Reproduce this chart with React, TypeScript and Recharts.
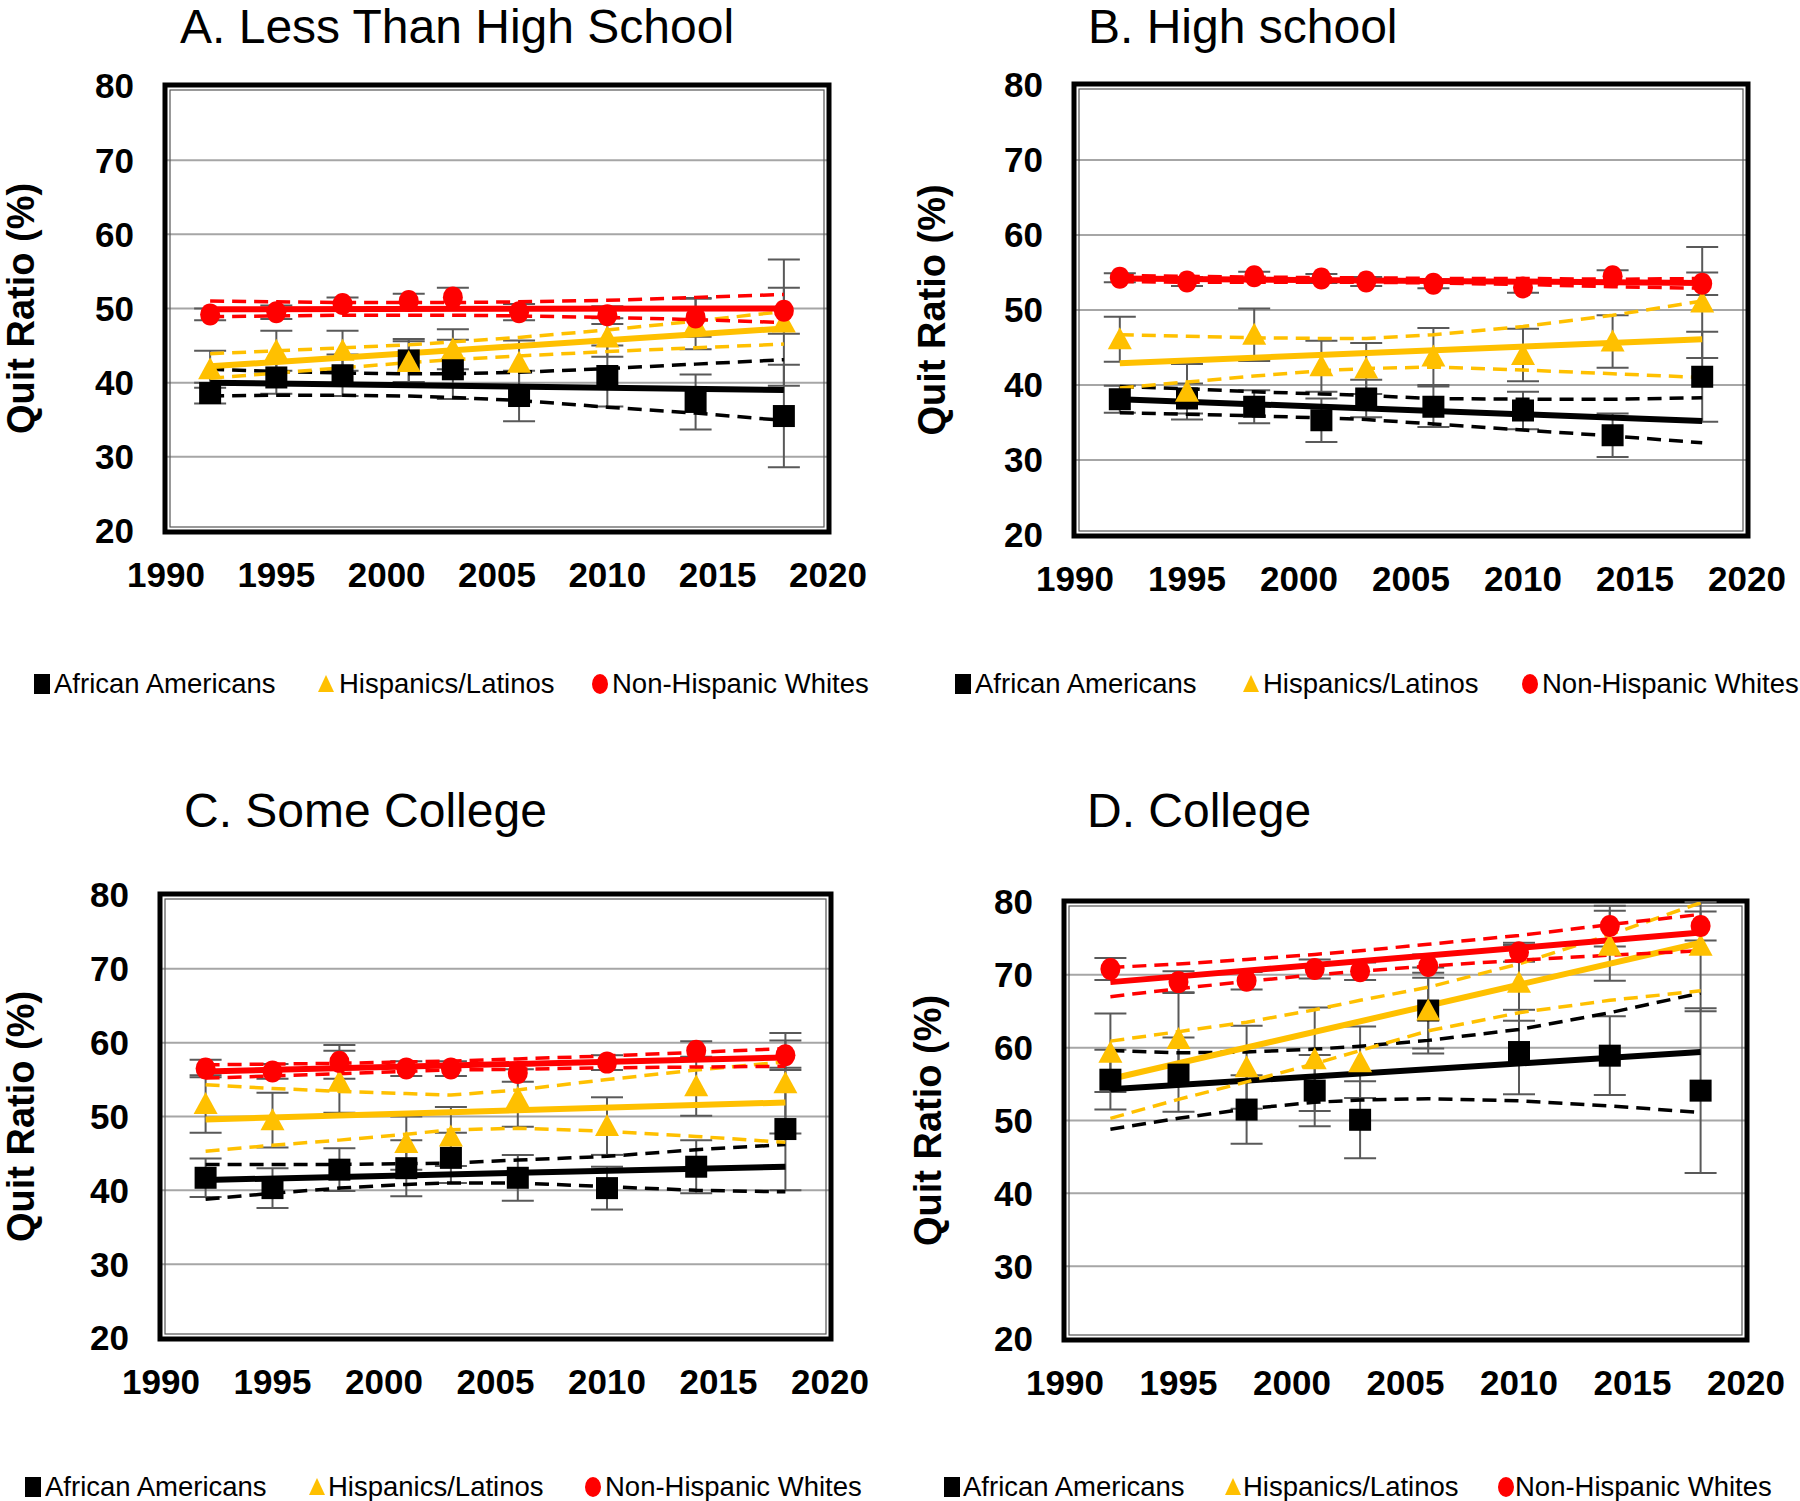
import React from "react";
import {
  CartesianGrid,
  ComposedChart,
  ErrorBar,
  Line,
  ReferenceArea,
  XAxis,
  YAxis,
} from "recharts";

const YEARS = [1992, 1995, 1998, 2001, 2003, 2006, 2010, 2014, 2018];
const FIT_YEARS = [1992, 2018];
const X_TICKS = [1990, 1995, 2000, 2005, 2010, 2015, 2020];
const Y_TICKS = [20, 30, 40, 50, 60, 70, 80];
const GROUP_NAMES = ["African Americans", "Hispanics/Latinos", "Non-Hispanic Whites"];

// A. Less than high school
const A_AA = [38.6, 40.7, 41.0, 43.0, 41.8, 38.2, 40.9, 37.4, 35.5];
const A_AA_ERR = [1.4, 2.2, 2.8, 2.9, 4.0, 3.4, 4.1, 3.7, 6.9];
const A_AA_FIT = [40.0, 39.0];
const A_AA_HI = [41.8, 41.5, 41.3, 41.2, 41.2, 41.4, 41.9, 42.5, 43.1];
const A_AA_LO = [38.2, 38.3, 38.3, 38.2, 38.0, 37.6, 36.7, 35.9, 34.9];
const A_HL = [41.8, 44.3, 44.3, 42.8, 44.5, 42.7, 46.1, 47.9, 48.1];
const A_HL_ERR = [2.5, 2.7, 2.7, 2.8, 2.7, 3.0, 2.6, 3.4, 8.5];
const A_HL_FIT = [42.2, 47.3];
const A_HL_HI = [43.9, 44.3, 44.7, 45.1, 45.5, 46.1, 47.1, 48.3, 49.6];
const A_HL_LO = [40.6, 41.3, 42.0, 42.7, 43.1, 43.6, 44.2, 44.7, 45.2];
const A_NHW = [49.2, 49.5, 50.6, 51.0, 51.5, 49.5, 49.1, 48.8, 49.7];
const A_NHW_ERR = [0.8, 0.9, 0.9, 1.0, 1.3, 1.1, 1.2, 2.6, 3.1];
const A_NHW_FIT = [49.9, 50.0];
const A_NHW_HI = [51.0, 50.9, 50.8, 50.8, 50.8, 50.9, 51.1, 51.5, 51.9];
const A_NHW_LO = [48.9, 49.0, 49.1, 49.1, 49.1, 49.0, 48.8, 48.5, 48.1];

// B. High school
const B_AA = [38.1, 38.2, 37.1, 35.3, 38.2, 37.1, 36.6, 33.3, 41.1];
const B_AA_ERR = [1.8, 2.0, 2.2, 2.9, 2.5, 2.7, 2.5, 2.9, 6.0];
const B_AA_FIT = [38.1, 35.2];
const B_AA_HI = [39.8, 39.5, 39.1, 38.8, 38.6, 38.2, 38.1, 38.1, 38.3];
const B_AA_LO = [36.3, 36.1, 35.9, 35.6, 35.4, 34.8, 34.0, 33.2, 32.3];
const B_HL = [46.1, 39.1, 46.7, 42.5, 42.2, 43.8, 44.0, 45.8, 51.0];
const B_HL_ERR = [3.0, 3.7, 3.5, 3.4, 3.4, 3.8, 3.5, 3.5, 7.4];
const B_HL_FIT = [42.9, 46.1];
const B_HL_HI = [46.7, 46.5, 46.3, 46.2, 46.2, 46.7, 47.8, 49.3, 51.2];
const B_HL_LO = [39.6, 40.4, 41.2, 41.9, 42.2, 42.4, 42.0, 41.5, 41.0];
const B_NHW = [54.3, 53.8, 54.5, 54.2, 53.8, 53.5, 53.0, 54.5, 53.5];
const B_NHW_ERR = [0.6, 0.6, 0.6, 0.6, 0.6, 0.6, 0.7, 0.8, 1.5];
const B_NHW_FIT = [54.2, 53.6];
const B_NHW_HI = [54.6, 54.5, 54.4, 54.3, 54.3, 54.2, 54.2, 54.1, 54.2];
const B_NHW_LO = [53.8, 53.7, 53.7, 53.7, 53.7, 53.6, 53.4, 53.1, 52.9];

// C. Some college
const C_AA = [41.7, 40.3, 42.8, 43.0, 44.4, 41.7, 40.3, 43.2, 48.3];
const C_AA_ERR = [2.6, 2.7, 2.9, 3.8, 3.4, 3.1, 2.9, 3.6, 8.3];
const C_AA_FIT = [41.4, 43.2];
const C_AA_HI = [43.5, 43.5, 43.5, 43.6, 43.7, 44.1, 44.6, 45.5, 46.2];
const C_AA_LO = [38.8, 39.6, 40.3, 40.8, 41.0, 41.0, 40.5, 40.0, 39.8];
const C_HL = [51.7, 49.5, 54.7, 46.4, 47.3, 52.5, 48.7, 54.1, 54.5];
const C_HL_ERR = [3.9, 3.7, 4.2, 3.6, 4.0, 3.9, 3.9, 4.0, 6.8];
const C_HL_FIT = [49.6, 51.9];
const C_HL_HI = [54.3, 53.8, 53.4, 53.1, 52.9, 53.6, 55.0, 56.3, 57.4];
const C_HL_LO = [45.3, 46.1, 46.8, 47.6, 48.2, 48.4, 48.0, 47.3, 46.5];
const C_NHW = [56.5, 56.1, 57.4, 56.5, 56.5, 55.9, 57.3, 58.9, 58.3];
const C_NHW_ERR = [1.2, 1.0, 2.3, 1.0, 1.0, 1.2, 1.0, 1.3, 2.0];
const C_NHW_FIT = [56.1, 58.0];
const C_NHW_HI = [57.0, 57.1, 57.2, 57.4, 57.5, 57.8, 58.2, 58.7, 59.2];
const C_NHW_LO = [55.2, 55.5, 55.8, 56.1, 56.3, 56.4, 56.6, 56.7, 56.8];

// D. College (last Hispanic bar runs off the top of the frame)
const D_AA = [55.6, 56.3, 51.5, 54.1, 50.1, 65.1, 59.4, 58.9, 54.1];
const D_AA_ERR = [4.1, 5.1, 4.7, 4.9, 5.3, 5.9, 5.8, 5.4, 11.3];
const D_AA_FIT = [54.3, 59.4];
const D_AA_HI = [59.6, 59.3, 59.4, 59.8, 60.2, 61.0, 62.5, 64.8, 67.5];
const D_AA_LO = [48.8, 50.3, 51.6, 52.5, 52.8, 53.0, 52.7, 52.0, 51.1];
const D_HL = [59.3, 61.2, 57.3, 58.4, 58.0, 65.1, 68.9, 74.0, 74.0];
const D_HL_ERR = [5.4, 6.4, 5.7, 7.1, 4.9, 5.2, 5.2, 4.8, [9.0, 6.0]];
const D_HL_FIT = [55.7, 74.4];
const D_HL_HI = [60.9, 62.2, 63.5, 65.2, 66.5, 68.3, 71.5, 75.5, 79.9];
const D_HL_LO = [50.3, 52.9, 55.3, 57.8, 59.6, 62.3, 64.8, 66.5, 67.8];
const D_NHW = [70.8, 69.0, 69.2, 70.8, 70.5, 71.2, 73.1, 76.7, 76.7];
const D_NHW_ERR = [1.5, 1.5, 1.2, 1.3, 1.2, 1.6, 1.3, 2.8, 2.0];
const D_NHW_FIT = [69.0, 75.8];
const D_NHW_HI = [71.0, 71.5, 72.1, 72.8, 73.3, 74.2, 75.4, 76.9, 78.3];
const D_NHW_LO = [67.0, 68.1, 69.1, 70.0, 70.5, 71.2, 72.0, 72.7, 73.3];

const FONT = "Arial, 'Liberation Sans', Helvetica, sans-serif";
const BLACK = "#000000";
const GOLD = "#ffc000";
const RED = "#ff0000";
const Y_AXIS_W = 170;
const X_AXIS_H = 70;
const MARGIN = { top: 20, right: 60, bottom: 0, left: 0 };

type Err = number | number[];
type Group = {
  pts: { x: number; y: number; err: Err }[];
  fit: { x: number; y: number }[];
  hi: { x: number; y: number }[];
  lo: { x: number; y: number }[];
};

const group = (v: number[], e: Err[], fit: number[], hi: number[], lo: number[]): Group => ({
  pts: YEARS.map((x, i) => ({ x, y: v[i], err: e[i] })),
  fit: FIT_YEARS.map((x, i) => ({ x, y: fit[i] })),
  hi: YEARS.map((x, i) => ({ x, y: hi[i] })),
  lo: YEARS.map((x, i) => ({ x, y: lo[i] })),
});

const squareDot = (p: any) =>
  p.cx == null ? <g key={p.index} /> : (
    <rect key={p.index} x={p.cx - 11} y={p.cy - 11} width={22} height={22} fill={BLACK} />
  );
const triangleDot = (p: any) =>
  p.cx == null ? <g key={p.index} /> : (
    <path
      key={p.index}
      d={`M${p.cx},${p.cy - 12} L${p.cx + 12},${p.cy + 10} L${p.cx - 12},${p.cy + 10} Z`}
      fill={GOLD}
    />
  );
const circleDot = (p: any) =>
  p.cx == null ? <g key={p.index} /> : (
    <ellipse key={p.index} cx={p.cx} cy={p.cy} rx={10} ry={11} fill={RED} />
  );

const BoxFrame = (p: any) => (
  <g>
    <rect x={p.x - 1} y={p.y - 1} width={p.width + 2} height={p.height + 2} fill="none" stroke={BLACK} strokeWidth={5} />
    <rect x={p.x + 4} y={p.y + 4} width={p.width - 8} height={p.height - 8} fill="none" stroke="#555" strokeWidth={1.2} />
  </g>
);

type PanelCfg = {
  title: string;
  titlePos: [number, number];
  box: { l: number; r: number; t: number; b: number };
  labelOffset: number;
  legendY: number;
  legendX: number[];
  groups: Group[];
};

const PANELS: PanelCfg[] = [
  {
    title: "A. Less Than High School",
    titlePos: [180, 5],
    box: { l: 166, r: 828, t: 86, b: 531 },
    labelOffset: 25,
    legendY: 684,
    legendX: [34, 54, 317, 339, 592, 612],
    groups: [
      group(A_AA, A_AA_ERR, A_AA_FIT, A_AA_HI, A_AA_LO),
      group(A_HL, A_HL_ERR, A_HL_FIT, A_HL_HI, A_HL_LO),
      group(A_NHW, A_NHW_ERR, A_NHW_FIT, A_NHW_HI, A_NHW_LO),
    ],
  },
  {
    title: "B. High school",
    titlePos: [1088, 5],
    box: { l: 1075, r: 1747, t: 85, b: 535 },
    labelOffset: 27,
    legendY: 684,
    legendX: [955, 975, 1242, 1263, 1522, 1542],
    groups: [
      group(B_AA, B_AA_ERR, B_AA_FIT, B_AA_HI, B_AA_LO),
      group(B_HL, B_HL_ERR, B_HL_FIT, B_HL_HI, B_HL_LO),
      group(B_NHW, B_NHW_ERR, B_NHW_FIT, B_NHW_HI, B_NHW_LO),
    ],
  },
  {
    title: "C. Some College",
    titlePos: [184, 789],
    box: { l: 161, r: 830, t: 895, b: 1338 },
    labelOffset: 30,
    legendY: 1487,
    legendX: [25, 45, 308, 328, 585, 605],
    groups: [
      group(C_AA, C_AA_ERR, C_AA_FIT, C_AA_HI, C_AA_LO),
      group(C_HL, C_HL_ERR, C_HL_FIT, C_HL_HI, C_HL_LO),
      group(C_NHW, C_NHW_ERR, C_NHW_FIT, C_NHW_HI, C_NHW_LO),
    ],
  },
  {
    title: "D. College",
    titlePos: [1087, 789],
    box: { l: 1065, r: 1746, t: 902, b: 1339 },
    labelOffset: 33,
    legendY: 1487,
    legendX: [944, 963, 1224, 1243, 1498, 1515],
    groups: [
      group(D_AA, D_AA_ERR, D_AA_FIT, D_AA_HI, D_AA_LO),
      group(D_HL, D_HL_ERR, D_HL_FIT, D_HL_HI, D_HL_LO),
      group(D_NHW, D_NHW_ERR, D_NHW_FIT, D_NHW_HI, D_NHW_LO),
    ],
  },
];

const COLORS = [BLACK, GOLD, RED];
const DOTS = [squareDot, triangleDot, circleDot];

const tickStyle = { fill: BLACK, fontSize: 35, fontWeight: "bold", fontFamily: FONT };

function Legend({ y, xs }: { y: number; xs: number[] }) {
  const text = (x: number, s: string) => (
    <div
      style={{
        position: "absolute",
        left: x,
        top: y - 14,
        fontSize: 27.5,
        lineHeight: "28px",
        fontFamily: FONT,
        whiteSpace: "nowrap",
        color: BLACK,
      }}
    >
      {s}
    </div>
  );
  return (
    <>
      <svg style={{ position: "absolute", left: xs[0], top: y - 10 }} width={17} height={21}>
        <rect x={0} y={0} width={16} height={20} fill={BLACK} />
      </svg>
      {text(xs[1], GROUP_NAMES[0])}
      <svg style={{ position: "absolute", left: xs[2], top: y - 9 }} width={18} height={18}>
        <path d="M9,0 L17,17 L1,17 Z" fill={GOLD} />
      </svg>
      {text(xs[3], GROUP_NAMES[1])}
      <svg style={{ position: "absolute", left: xs[4], top: y - 10 }} width={17} height={21}>
        <ellipse cx={8} cy={10} rx={8} ry={10} fill={RED} />
      </svg>
      {text(xs[5], GROUP_NAMES[2])}
    </>
  );
}

function Panel({ cfg }: { cfg: PanelCfg }) {
  const { box } = cfg;
  const w = box.r - box.l + Y_AXIS_W + MARGIN.right;
  const h = box.b - box.t + MARGIN.top + X_AXIS_H;
  return (
    <>
      <div
        style={{
          position: "absolute",
          left: cfg.titlePos[0],
          top: cfg.titlePos[1],
          fontSize: 48,
          lineHeight: "44px",
          fontFamily: FONT,
          whiteSpace: "nowrap",
          color: BLACK,
        }}
      >
        {cfg.title}
      </div>
      <div style={{ position: "absolute", left: box.l - Y_AXIS_W, top: box.t - MARGIN.top }}>
        <ComposedChart width={w} height={h} margin={MARGIN}>
          <CartesianGrid vertical={false} stroke="#a6a6a6" strokeWidth={2} />
          <XAxis
            type="number"
            dataKey="x"
            domain={[1990, 2020]}
            ticks={X_TICKS}
            interval={0}
            allowDataOverflow
            height={X_AXIS_H}
            axisLine={false}
            tickLine={false}
            tickSize={6}
            tickMargin={25}
            tick={tickStyle}
          />
          <YAxis
            type="number"
            domain={[20, 80]}
            ticks={Y_TICKS}
            interval={0}
            allowDataOverflow
            width={Y_AXIS_W}
            axisLine={false}
            tickLine={false}
            tickSize={6}
            tickMargin={26}
            tick={tickStyle}
            label={{
              value: "Quit Ratio (%)",
              angle: -90,
              position: "insideLeft",
              offset: cfg.labelOffset,
              style: { textAnchor: "middle", fontSize: 38, fontWeight: "bold", fontFamily: FONT, fill: BLACK },
            }}
          />
          <ReferenceArea x1={1990} x2={2020} y1={20} y2={80} ifOverflow="visible" shape={BoxFrame} />
          {cfg.groups.map((g, i) => (
            <Line
              key={`pts${i}`}
              data={g.pts}
              dataKey="y"
              stroke="none"
              dot={DOTS[i]}
              activeDot={false}
              isAnimationActive={false}
            >
              <ErrorBar dataKey="err" direction="y" width={16} strokeWidth={2} stroke="#595959" />
            </Line>
          ))}
          {cfg.groups.flatMap((g, i) => [
            <Line
              key={`hi${i}`}
              data={g.hi}
              dataKey="y"
              stroke={COLORS[i]}
              strokeWidth={3.5}
              strokeDasharray="14 8"
              dot={false}
              activeDot={false}
              isAnimationActive={false}
            />,
            <Line
              key={`lo${i}`}
              data={g.lo}
              dataKey="y"
              stroke={COLORS[i]}
              strokeWidth={3.5}
              strokeDasharray="14 8"
              dot={false}
              activeDot={false}
              isAnimationActive={false}
            />,
            <Line
              key={`fit${i}`}
              data={g.fit}
              dataKey="y"
              stroke={COLORS[i]}
              strokeWidth={6}
              dot={false}
              activeDot={false}
              isAnimationActive={false}
            />,
          ])}
        </ComposedChart>
      </div>
      <Legend y={cfg.legendY} xs={cfg.legendX} />
    </>
  );
}

export default function App() {
  return (
    <div
      style={{
        position: "absolute",
        left: 0,
        top: 0,
        width: 1800,
        height: 1501,
        background: "#ffffff",
        overflow: "hidden",
      }}
    >
      {PANELS.map((p) => (
        <Panel key={p.title} cfg={p} />
      ))}
    </div>
  );
}
